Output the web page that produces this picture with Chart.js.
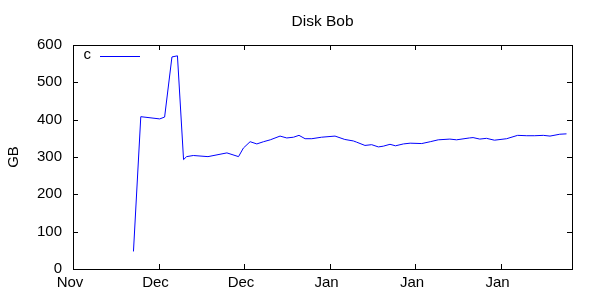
<!DOCTYPE html>
<html>
<head>
<meta charset="utf-8">
<script src="https://cdn.jsdelivr.net/npm/chart.js@4"></script>
<style>
html, body {margin: 0; padding: 0; background: #fff;}
#wrap {width: 600px; height: 300px;}
</style>
</head>
<body>
<div id="wrap"><canvas id="chart" width="600" height="300"></canvas></div>
<script>
//Days since the first tick (Nov)
const days = [9.9, 11.1, 14.2, 15.0, 16.2, 17.1, 18.1, 18.6, 19.7, 22.1, 25.2, 27.1, 27.9, 29.0,
	30.1, 31.2, 32.3, 33.9, 35.0, 36.1, 37.0, 38.0, 39.1, 40.7, 42.9, 44.5, 45.9, 46.4, 47.8,
	48.9, 50.0, 50.8, 51.9, 52.8, 54.1, 55.2, 57.1, 58.5, 59.8, 61.7, 62.8, 64.9, 65.5, 66.6,
	67.7, 69.0, 71.0, 72.8, 74.3, 75.6, 77.0, 78.1, 79.7, 80.8];
const disk_c = [47, 408, 402, 407, 568, 571, 293, 301, 304, 301, 311, 301, 324, 341,
	335, 341, 346, 356, 351, 353, 358, 349, 349, 353, 356, 347, 343, 340, 331,
	333, 327, 329, 334, 330, 335, 337, 336, 341, 346, 348, 346, 351, 352, 348,
	350, 345, 349, 358, 357, 357, 358, 356, 361, 362];
const tick_days = [0, 14, 28, 42, 56, 70];
const tick_labels = ["Nov", "Dec", "Dec", "Jan", "Jan", "Jan"];
const title = "Disk Bob";
const font = "'Liberation Sans', Arial, sans-serif";

//Gnuplot-style box with inward ticks on all four sides, title over the plot, key inside the top left
const frame = {
	id: "frame",
	afterDraw(chart) {
		const {ctx, chartArea: a, scales: {x, y}} = chart;
		const len = 5;
		ctx.save();
		ctx.strokeStyle = "#000";
		ctx.lineWidth = 1;
		ctx.beginPath();
		x.ticks.forEach(t => {
			const px = Math.round(x.getPixelForValue(t.value)) + 0.5;
			ctx.moveTo(px, a.bottom); ctx.lineTo(px, a.bottom - len);
			ctx.moveTo(px, a.top); ctx.lineTo(px, a.top + len);
		});
		y.ticks.forEach(t => {
			const py = Math.round(y.getPixelForValue(t.value)) + 0.5;
			ctx.moveTo(a.left, py); ctx.lineTo(a.left + len, py);
			ctx.moveTo(a.right, py); ctx.lineTo(a.right - len, py);
		});
		ctx.stroke();
		ctx.strokeRect(Math.round(a.left) + 0.5, Math.round(a.top) + 0.5,
			Math.round(a.right - a.left), Math.round(a.bottom - a.top));
		ctx.fillStyle = "#000";
		ctx.textBaseline = "middle";
		ctx.textAlign = "center";
		ctx.font = "15.5px " + font;
		ctx.fillText(title, (a.left + a.right) / 2, 21.5);
		//Key
		const ds = chart.data.datasets[0];
		ctx.font = "15px " + font;
		ctx.textAlign = "right";
		ctx.fillText(ds.label, a.left + 18, a.top + 10);
		ctx.strokeStyle = ds.borderColor;
		ctx.beginPath();
		ctx.moveTo(a.left + 27, a.top + 11.5);
		ctx.lineTo(a.left + 67, a.top + 11.5);
		ctx.stroke();
		ctx.restore();
	},
};

new Chart(document.getElementById("chart"), {
	type: "line",
	data: {
		datasets: [{
			label: "c",
			data: days.map((d, i) => ({x: d, y: disk_c[i]})),
			borderColor: "#0000ff",
			borderWidth: 1,
			pointRadius: 0,
			tension: 0,
			fill: false,
		}],
	},
	options: {
		responsive: false,
		animation: false,
		layout: {padding: {left: 0, right: 28, top: 45, bottom: 0}},
		plugins: {
			legend: {display: false},
			tooltip: {enabled: false},
			title: {display: false},
		},
		scales: {
			x: {
				type: "linear",
				min: 0, max: 81.7,
				afterBuildTicks: s => {s.ticks = tick_days.map(v => ({value: v}));},
				afterFit: s => {s.height = 31;},
				grid: {display: false, drawTicks: false},
				border: {display: false},
				ticks: {
					color: "#000",
					font: {family: font, size: 15},
					padding: 5,
					labelOffset: -3,
					maxRotation: 0,
					autoSkip: false,
					callback: (v, i) => tick_labels[i],
				},
			},
			y: {
				min: 0, max: 600,
				afterFit: s => {s.width = 73;},
				grid: {display: false, drawTicks: false},
				border: {display: false},
				title: {
					display: true,
					text: "GB",
					color: "#000",
					font: {family: font, size: 15},
					padding: {top: 5, bottom: 0},
				},
				ticks: {
					stepSize: 100,
					color: "#000",
					font: {family: font, size: 15},
					padding: 11,
				},
			},
		},
	},
	plugins: [frame],
});
</script>
</body>
</html>
